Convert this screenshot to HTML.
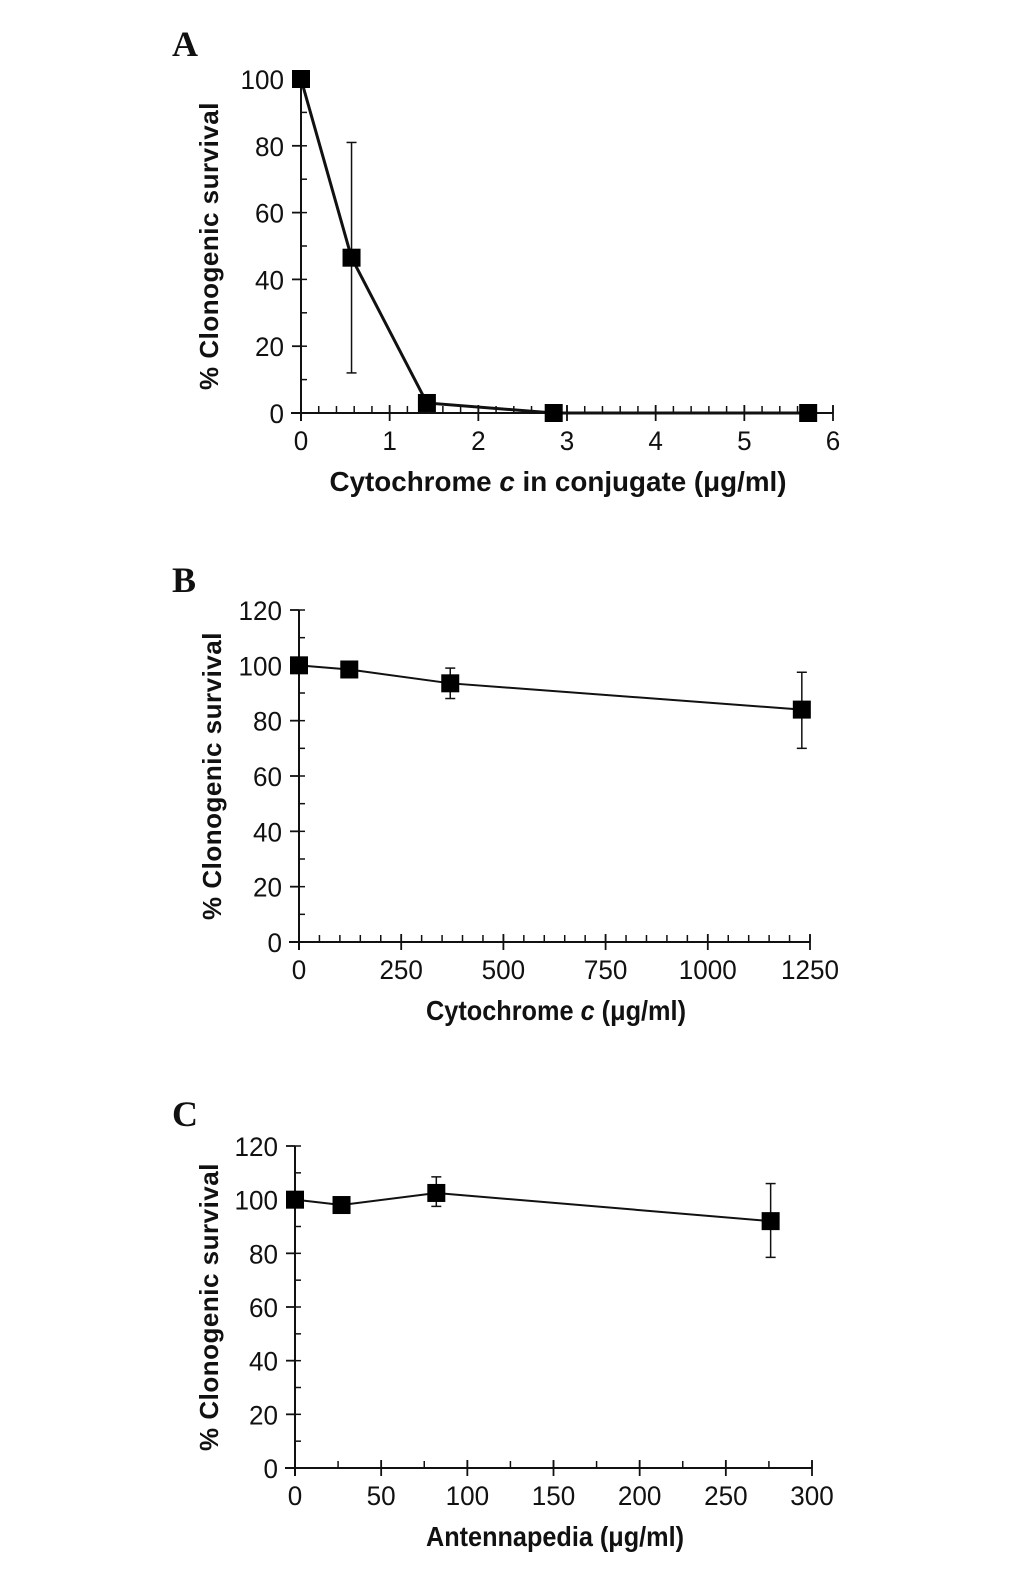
<!DOCTYPE html>
<html><head><meta charset="utf-8"><style>
html,body{margin:0;padding:0;background:#fff;}
svg{display:block;}
.tick{font-family:"Liberation Sans Narrow","Liberation Sans",sans-serif;font-size:27px;fill:#111;}
.ttl{font-family:"Liberation Sans Narrow","Liberation Sans",sans-serif;font-weight:bold;font-size:28px;fill:#111;}
.ytl{font-family:"Liberation Sans",sans-serif;font-weight:bold;font-size:26px;fill:#111;letter-spacing:0.5px;}
.lab{font-family:"Liberation Serif",serif;font-weight:bold;font-size:36px;fill:#111;}
</style></head><body>
<svg id="fig" width="1033" height="1571" viewBox="0 0 1033 1571" xmlns="http://www.w3.org/2000/svg">
<text class="lab" x="172" y="56">A</text>
<text class="lab" x="172" y="592">B</text>
<text class="lab" x="172" y="1126">C</text>
</svg>
<script>
// Panel A data
const aX = [0, 0.57, 1.42, 2.85, 5.72];
const aY = [100, 46.5, 3, 0, 0];
const aLo = [null, 12, null, null, null];
const aHi = [null, 81, null, null, null];
const aXTicks = [0, 1, 2, 3, 4, 5, 6];
const aYTicks = [0, 20, 40, 60, 80, 100];
// Panel B data
const bX = [0, 123, 370, 1230];
const bY = [100, 98.5, 93.5, 84];
const bLo = [null, null, 88, 70];
const bHi = [null, null, 99, 97.5];
const bXTicks = [0, 250, 500, 750, 1000, 1250];
const bYTicks = [0, 20, 40, 60, 80, 100, 120];
// Panel C data
const cX = [0, 27, 82, 276];
const cY = [100, 98, 102.5, 92];
const cLo = [null, null, 97.5, 78.5];
const cHi = [null, null, 108.5, 106];
const cXTicks = [0, 50, 100, 150, 200, 250, 300];
const cYTicks = [0, 20, 40, 60, 80, 100, 120];

const NS = "http://www.w3.org/2000/svg";
const svg = document.getElementById('fig');
function mk(tag, attrs, parent, txt){
  const e = document.createElementNS(NS, tag);
  for (const k in attrs) e.setAttribute(k, attrs[k]);
  if (txt !== undefined) e.textContent = txt;
  (parent || svg).appendChild(e);
  return e;
}
function panel(id, cfg){
  const g = mk('g', {});
  
  
  const sx = v => cfg.x0 + (v - cfg.xmin) / (cfg.xmax - cfg.xmin) * (cfg.x1 - cfg.x0);
  const sy = v => cfg.y0 - (v - cfg.ymin) / (cfg.ymax - cfg.ymin) * (cfg.y0 - cfg.y1);
  const ax = mk('line', {x1: sx(cfg.xmin) - 10, y1: cfg.y0, x2: cfg.x1, y2: cfg.y0, stroke: '#111', 'stroke-width': 2}, g);
  
  
  const ay = mk('line', {x1: cfg.x0, y1: cfg.y1, x2: cfg.x0, y2: cfg.y0 + 8, stroke: '#111', 'stroke-width': 2}, g);
  
  
  for (let v = cfg.xmin; v <= cfg.xmax + 1e-9; v += cfg.xminor) {
    mk('line', {x1: sx(v), y1: cfg.y0 - 7, x2: sx(v), y2: cfg.y0, stroke: '#111', 'stroke-width': 1.5}, g);
  }
  cfg.xt.forEach(v => {
    mk('line', {x1: sx(v), y1: cfg.y0 - 8, x2: sx(v), y2: cfg.y0 + 8, stroke: '#111', 'stroke-width': 1.8}, g);
    const s = String(v);
    const t = mk('text', {class: 'tick', x: sx(v), y: cfg.y0 + 37, 'text-anchor': 'middle', textLength: s.length * 14.5, lengthAdjust: 'spacingAndGlyphs'}, g, s);
    
    
  });
  for (let v = cfg.ymin; v <= cfg.ymax + 1e-9; v += cfg.yminor) {
    mk('line', {x1: cfg.x0, y1: sy(v), x2: cfg.x0 + 6, y2: sy(v), stroke: '#111', 'stroke-width': 1.5}, g);
  }
  cfg.yt.forEach(v => {
    mk('line', {x1: cfg.x0 - 9, y1: sy(v), x2: cfg.x0, y2: sy(v), stroke: '#111', 'stroke-width': 1.8}, g);
    const s = String(v);
    const t = mk('text', {class: 'tick', x: cfg.x0 - 17, y: sy(v) + 10, 'text-anchor': 'end', textLength: s.length * 14.5, lengthAdjust: 'spacingAndGlyphs'}, g, s);
    
    
  });
  cfg.X.forEach((x, i) => {
    if (cfg.lo[i] === null) return;
    const px = sx(x);
    const eb = mk('g', {}, g);
    
    
    mk('line', {x1: px, y1: sy(cfg.lo[i]), x2: px, y2: sy(cfg.hi[i]), stroke: '#111', 'stroke-width': 1.5}, eb);
    mk('line', {x1: px - 5, y1: sy(cfg.lo[i]), x2: px + 5, y2: sy(cfg.lo[i]), stroke: '#111', 'stroke-width': 1.5}, eb);
    mk('line', {x1: px - 5, y1: sy(cfg.hi[i]), x2: px + 5, y2: sy(cfg.hi[i]), stroke: '#111', 'stroke-width': 1.5}, eb);
  });
  const pts = cfg.X.map((x, i) => sx(x) + ',' + sy(cfg.Y[i])).join(' ');
  const ln = mk('polyline', {points: pts, fill: 'none', stroke: '#111', 'stroke-width': cfg.lw}, g);
  
  
  cfg.X.forEach((x, i) => {
    const r = mk('rect', {x: sx(x) - 9, y: sy(cfg.Y[i]) - 9, width: 18, height: 18, fill: '#000'}, g);
    
    
  });
  const xt = mk('text', {class: 'ttl', x: cfg.xtx, y: cfg.y0 + 78, 'text-anchor': 'middle', textLength: cfg.xtl, lengthAdjust: 'spacingAndGlyphs'}, g);
  xt.innerHTML = cfg.xtitle;
  
  
  const yc = (cfg.y0 + cfg.y1) / 2 + cfg.ytoff;
  const yt = mk('text', {class: 'ytl', x: cfg.ytx, y: yc, 'text-anchor': 'middle', transform: 'rotate(-90 ' + cfg.ytx + ' ' + yc + ')'}, g, '% Clonogenic survival');
  
  
}
panel('a', {X: aX, Y: aY, lo: aLo, hi: aHi, xt: aXTicks, yt: aYTicks, xmin: 0, xmax: 6, ymin: 0, ymax: 100,
  x0: 301, x1: 833, y0: 413, y1: 79, xminor: 0.2, yminor: 10, lw: 3,
  xtitle: 'Cytochrome <tspan font-style="italic">c</tspan> in conjugate (μg/ml)', xtl: 457, xtx: 558, ytx: 218, ytoff: 0});
panel('b', {X: bX, Y: bY, lo: bLo, hi: bHi, xt: bXTicks, yt: bYTicks, xmin: 0, xmax: 1250, ymin: 0, ymax: 120,
  x0: 299, x1: 810, y0: 942, y1: 610, xminor: 50, yminor: 10, lw: 2,
  xtitle: 'Cytochrome <tspan font-style="italic">c</tspan> (μg/ml)', xtl: 260, xtx: 556, ytx: 221, ytoff: 0});
panel('c', {X: cX, Y: cY, lo: cLo, hi: cHi, xt: cXTicks, yt: cYTicks, xmin: 0, xmax: 300, ymin: 0, ymax: 120,
  x0: 295, x1: 812, y0: 1468, y1: 1146, xminor: 25, yminor: 10, lw: 2,
  xtitle: 'Antennapedia (μg/ml)', xtl: 258, xtx: 555, ytx: 218, ytoff: 0});
</script>
</body></html>
